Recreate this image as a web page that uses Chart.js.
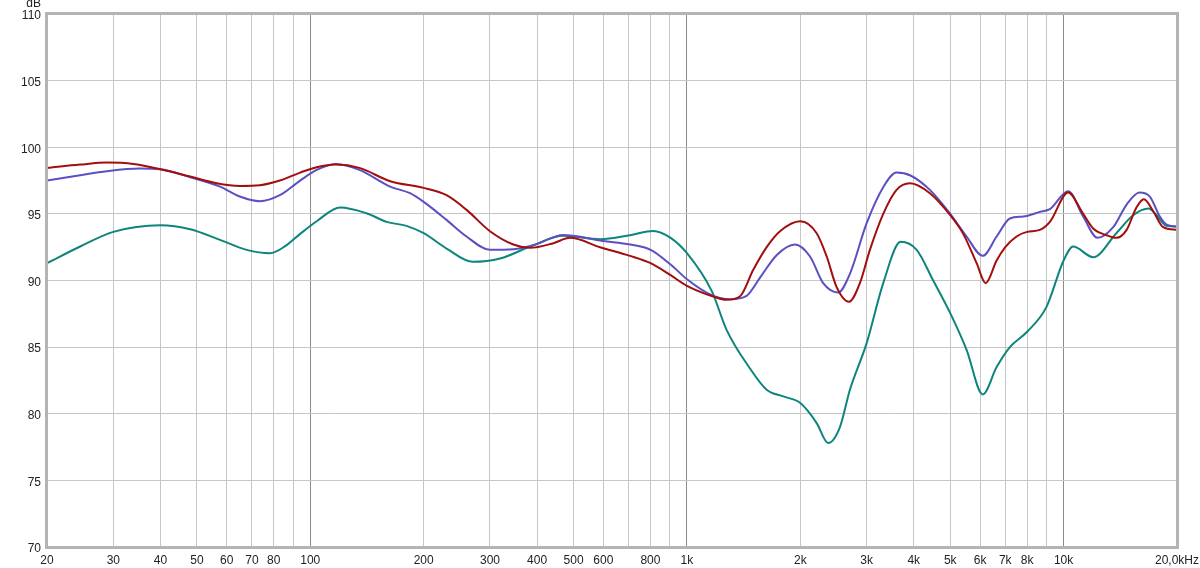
<!DOCTYPE html>
<html>
<head>
<meta charset="utf-8">
<script src="https://cdn.jsdelivr.net/npm/chart.js@4.4.1/dist/chart.umd.min.js"></script>
<style>
html, body { margin: 0; padding: 0; background: #fff; }
#wrap { width: 1200px; height: 568px; position: relative; }
</style>
</head>
<body>
<div id="wrap"><canvas id="fr"></canvas></div>
<script>
// frequency response, values (Hz / dB)
const redHz = [20, 24.5, 28.8, 33.9, 40, 48, 56.4, 65, 73.5, 83, 94, 104, 117, 135, 163, 200, 230, 260, 300, 346, 383, 442, 489, 588, 706, 801, 905, 1000, 1174, 1274, 1382, 1500, 1628, 1766, 2000, 2210, 2350, 2497, 2692, 2878, 3060, 3320, 3601, 3908, 4416, 5000, 5413, 5876, 6210, 6640, 7000, 7500, 8000, 8650, 9196, 10280, 11270, 11980, 13010, 13800, 14700, 15620, 16340, 17300, 18380, 20000];
const redDb = [98.45, 98.7, 98.85, 98.75, 98.35, 97.8, 97.3, 97.1, 97.15, 97.5, 98.1, 98.5, 98.7, 98.45, 97.45, 96.95, 96.4, 95.3, 93.7, 92.7, 92.45, 92.8, 93.2, 92.5, 91.85, 91.3, 90.4, 89.6, 88.8, 88.55, 88.8, 90.8, 92.5, 93.7, 94.45, 93.55, 91.8, 89.5, 88.4, 89.8, 92.3, 95.0, 96.8, 97.3, 96.55, 94.9, 93.5, 91.3, 89.8, 91.5, 92.5, 93.3, 93.65, 93.8, 94.4, 96.6, 95.0, 93.9, 93.4, 93.2, 93.8, 95.5, 96.1, 95.2, 94.0, 93.8];

const blueHz = [20, 24.5, 28.8, 35.3, 40, 48, 57.6, 65, 73.5, 83, 94, 104, 117, 135, 163, 184, 200, 230, 260, 300, 346, 391, 470, 530, 588, 706, 801, 905, 1000, 1164, 1301, 1440, 1562, 1730, 1935, 2122, 2300, 2520, 2708, 3000, 3320, 3601, 3908, 4416, 5000, 5526, 6100, 6640, 7200, 7812, 8650, 9196, 10280, 11270, 12300, 13540, 14700, 15900, 16940, 18010, 18770, 20000];
const blueDb = [97.5, 97.9, 98.2, 98.4, 98.35, 97.75, 97.05, 96.3, 95.95, 96.4, 97.5, 98.3, 98.75, 98.3, 97.05, 96.55, 95.9, 94.55, 93.3, 92.3, 92.35, 92.65, 93.42, 93.25, 93.0, 92.7, 92.3, 91.2, 90.1, 88.9, 88.6, 88.85, 90.2, 91.9, 92.7, 91.8, 89.8, 89.1, 90.5, 94.3, 97.0, 98.1, 97.9, 96.8, 95.0, 93.3, 91.85, 93.3, 94.65, 94.8, 95.15, 95.35, 96.7, 94.8, 93.2, 94.0, 95.7, 96.6, 96.3, 94.8, 94.2, 94.05];

const tealHz = [20, 24.5, 30, 40, 48, 57.6, 67.8, 78.2, 86, 94, 104, 120, 141, 159.5, 180, 200, 230, 270, 319, 391, 470, 588, 706, 814, 905, 1000, 1164, 1274, 1470, 1628, 1802, 2000, 2210, 2370, 2548, 2708, 3000, 3320, 3692, 4072, 4506, 5000, 5526, 6100, 6640, 7200, 8000, 9000, 10000, 10600, 11980, 13800, 15300, 16800, 17660, 18770, 20000];
const tealDb = [91.3, 92.55, 93.65, 94.15, 93.85, 93.05, 92.3, 92.05, 92.6, 93.5, 94.45, 95.48, 95.05, 94.4, 94.1, 93.55, 92.4, 91.4, 91.65, 92.65, 93.35, 93.1, 93.4, 93.72, 93.2, 92.05, 89.2, 86.3, 83.4, 81.8, 81.3, 80.8, 79.3, 77.8, 79.0, 81.8, 85.3, 89.8, 92.9, 92.3, 90.0, 87.55, 84.8, 81.45, 83.5, 85.0, 86.15, 88.0, 91.5, 92.55, 91.75, 93.55, 94.9, 95.4, 94.9, 94.1, 94.05];

// vertical grid lines and the labels printed under them
const gridHz = [20, 30, 40, 50, 60, 70, 80, 90, 100, 200, 300, 400, 500, 600, 700, 800, 900,
  1000, 2000, 3000, 4000, 5000, 6000, 7000, 8000, 9000, 10000, 20000];
const decadeHz = [100, 1000, 10000];
const hzLabels = {20: '20', 30: '30', 40: '40', 50: '50', 60: '60', 70: '70', 80: '80',
  100: '100', 200: '200', 300: '300', 400: '400', 500: '500', 600: '600', 800: '800',
  1000: '1k', 2000: '2k', 3000: '3k', 4000: '4k', 5000: '5k', 6000: '6k', 7000: '7k',
  8000: '8k', 10000: '10k', 20000: '20,0kHz'};
const dbMin = 70, dbMax = 110, dbStep = 5;

function pts(hz, db) {
    return hz.map((f, i) => ({ x: f, y: db[i] }));
}

function line(label, hz, db, color) {
    return {
        label: label,
        data: pts(hz, db),
        borderColor: color,
        borderWidth: 2,
        pointRadius: 0,
        cubicInterpolationMode: 'monotone',
        fill: false
    };
}

const font = { family: 'Liberation Sans, Arial, sans-serif', size: 12 };

// frame round the plot + the "dB" unit label
const framePlugin = {
    id: 'frame',
    afterDraw(chart) {
        const a = chart.chartArea;
        const c = chart.ctx;
        c.save();
        c.strokeStyle = '#b4b4b4';
        c.lineWidth = 3;
        c.strokeRect(a.left - 0.5, a.top - 0.5, a.right - a.left + 1, a.bottom - a.top + 1);
        c.fillStyle = '#222';
        c.font = '12px Liberation Sans, Arial, sans-serif';
        c.textAlign = 'right';
        c.textBaseline = 'middle';
        c.fillText('dB', a.left - 6, a.top - 10);
        c.restore();
    }
};

new Chart(document.getElementById('fr'), {
    type: 'line',
    data: {
        datasets: [
            line('R', redHz, redDb, '#a30d0d'),
            line('B', blueHz, blueDb, '#5a50c2'),
            line('T', tealHz, tealDb, '#0e857c')
        ]
    },
    options: {
        responsive: true,
        maintainAspectRatio: false,
        animation: false,
        layout: { padding: { top: 14, right: 23, left: 0, bottom: 0 } },
        plugins: {
            legend: { display: false },
            tooltip: { enabled: false }
        },
        scales: {
            x: {
                type: 'logarithmic',
                min: 20,
                max: 20000,
                afterBuildTicks: (scale) => {
                    scale.ticks = gridHz.map(v => ({ value: v }));
                },
                afterFit: (scale) => {
                    scale.height = 21;
                    // keep the end labels from pushing the plot inwards
                    scale.paddingLeft = 0;
                    scale.paddingRight = 0;
                },
                border: { display: false },
                grid: {
                    drawTicks: false,
                    lineWidth: 1,
                    color: (ctx) => decadeHz.includes(ctx.tick && ctx.tick.value) ? '#8a8a8a' : '#c6c6c6'
                },
                ticks: {
                    autoSkip: false,
                    maxRotation: 0,
                    padding: 6,
                    color: '#222',
                    font: font,
                    callback: (v) => hzLabels[v] || ''
                }
            },
            y: {
                min: dbMin,
                max: dbMax,
                afterFit: (scale) => {
                    scale.width = 47;
                    scale.paddingTop = 0;
                    scale.paddingBottom = 0;
                },
                border: { display: false },
                grid: { drawTicks: false, color: '#c6c6c6' },
                ticks: {
                    stepSize: dbStep,
                    padding: 6,
                    labelOffset: 2,
                    color: '#222',
                    font: font
                }
            }
        }
    },
    plugins: [framePlugin]
});
</script>
</body>
</html>
